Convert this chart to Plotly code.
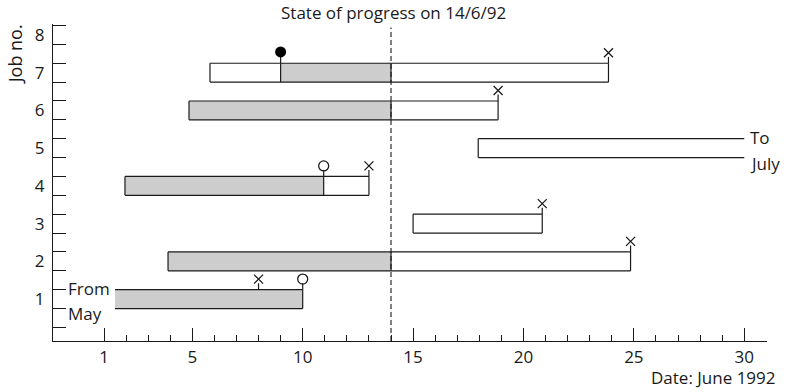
import plotly.graph_objects as go

# job data (days in June 1992)
jobs = [1, 2, 3, 4, 5, 6, 7]
start = [1.5, 3.9, 15.0, 1.95, 17.95, 4.85, 5.8]
done_from = [1.5, 3.9, None, 1.95, None, 4.85, 9.0]
done_to = [10.0, 14.0, None, 10.95, None, 14.0, 14.0]
finish = [10.0, 24.85, 20.85, 13.0, 30.0, 18.85, 23.85]
open_left = [True, False, False, False, False, False, False]
open_right = [False, False, False, False, True, False, False]

# markers
cross_job = [1, 2, 3, 4, 6, 7]
cross_day = [8.0, 24.85, 20.85, 13.0, 18.85, 23.85]
ring_job = [1, 4]
ring_day = [10.0, 10.95]
dot_job = [7]
dot_day = [9.0]

today = 14
x_major = [1, 5, 10, 15, 20, 25, 30]
y_labels = [1, 2, 3, 4, 5, 6, 7, 8]

INK = "#1a1a1a"
GREY = "#cdcdcd"
FONT = "Open Sans"
H = 0.25

fig = go.Figure()

# bar fills
for j, s, f, a, b in zip(jobs, start, finish, done_from, done_to):
    fig.add_trace(go.Bar(y=[j], x=[f - s], base=[s], orientation="h", width=2 * H,
                         marker=dict(color="white", line=dict(width=0)), showlegend=False))
    if a is not None:
        fig.add_trace(go.Bar(y=[j], x=[b - a], base=[a], orientation="h", width=2 * H,
                             marker=dict(color=GREY, line=dict(width=0)), showlegend=False))

# bar outlines
ox, oy = [], []
for j, s, f, a, b, ol, orr in zip(jobs, start, finish, done_from, done_to, open_left, open_right):
    ox += [s, f, None, s, f, None]
    oy += [j + H, j + H, None, j - H, j - H, None]
    if not ol:
        ox += [s, s, None]
        oy += [j - H, j + H, None]
    if not orr:
        ox += [f, f, None]
        oy += [j - H, j + H, None]
    if a is not None:
        for v in (a, b):
            if v not in (s, f):
                ox += [v, v, None]
                oy += [j - H, j + H, None]
fig.add_trace(go.Scatter(x=ox, y=oy, mode="lines", line=dict(color=INK, width=1.2),
                         showlegend=False, hoverinfo="skip"))

# stems up to markers
sx, sy = [], []
for j, d in zip(cross_job + ring_job + dot_job, cross_day + ring_day + dot_day):
    sx += [d, d, None]
    sy += [j + H, j + 0.42, None]
fig.add_trace(go.Scatter(x=sx, y=sy, mode="lines", line=dict(color=INK, width=1.2),
                         showlegend=False, hoverinfo="skip"))

fig.add_trace(go.Scatter(x=cross_day, y=[j + 0.53 for j in cross_job], mode="markers",
                         marker=dict(symbol="x-thin", size=9, line=dict(color=INK, width=1.3)),
                         showlegend=False))
fig.add_trace(go.Scatter(x=ring_day, y=[j + 0.53 for j in ring_job], mode="markers",
                         marker=dict(symbol="circle-open", size=10, color=INK, line=dict(width=1.3)),
                         showlegend=False))
fig.add_trace(go.Scatter(x=dot_day, y=[j + 0.55 for j in dot_job], mode="markers",
                         marker=dict(symbol="circle", size=11, color="black"),
                         showlegend=False))

# state-of-progress line
fig.add_trace(go.Scatter(x=[today, today], y=[-0.11, 8.2], mode="lines",
                         line=dict(color=INK, width=1.1, dash="5px,3px"),
                         showlegend=False, hoverinfo="skip"))

txt = dict(family=FONT, size=17, color=INK)
fig.add_annotation(x=-0.7, y=1.27, text="From", showarrow=False, xanchor="left", font=txt)
fig.add_annotation(x=-0.7, y=0.63, text="May", showarrow=False, xanchor="left", font=txt)
fig.add_annotation(x=30.15, y=5.27, text="To", showarrow=False, xanchor="left", font=txt)
fig.add_annotation(x=30.15, y=4.6, text="July", showarrow=False, xanchor="left", font=txt)
fig.add_annotation(x=14.13, xref="x", y=1.035, yref="paper", text="State of progress on 14/6/92",
                   showarrow=False, yanchor="middle", font=txt)
fig.add_annotation(x=-0.053, xref="paper", y=0.905, yref="paper", text="Job no.", textangle=-90,
                   xanchor="center", yanchor="middle",
                   showarrow=False, font=dict(family=FONT, size=18, color=INK))
fig.add_annotation(x=1.0154, xref="paper", y=-0.115, yref="paper", text="Date: June 1992",
                   showarrow=False, xanchor="right", yanchor="middle", font=txt)

fig.update_layout(
    width=786, height=392,
    margin=dict(l=53, r=19, t=24, b=51),
    plot_bgcolor="white", paper_bgcolor="white",
    barmode="overlay", bargap=0,
    font=txt,
    xaxis=dict(range=[-1.31, 31.03], showgrid=False, zeroline=False,
               showline=True, linecolor=INK, linewidth=1.2,
               tickvals=x_major, ticks="inside", ticklen=13, tickwidth=1.1, tickcolor=INK,
               minor=dict(tickvals=list(range(1, 31)), ticks="inside", ticklen=6,
                          tickwidth=1, tickcolor=INK)),
    yaxis=dict(range=[-0.11, 8.29], showgrid=False, zeroline=False,
               showline=True, linecolor=INK, linewidth=1.2,
               tickvals=y_labels, ticks="", ticklabelstandoff=4,
               minor=dict(tickvals=[k + 0.25 for k in range(0, 9)] + [k + 0.75 for k in range(0, 8)],
                          ticks="inside", ticklen=13, tickwidth=1, tickcolor=INK)),
)

fig.write_html("out.html", config={"displayModeBar": False},
               post_script="document.body.style.margin='0px';")
